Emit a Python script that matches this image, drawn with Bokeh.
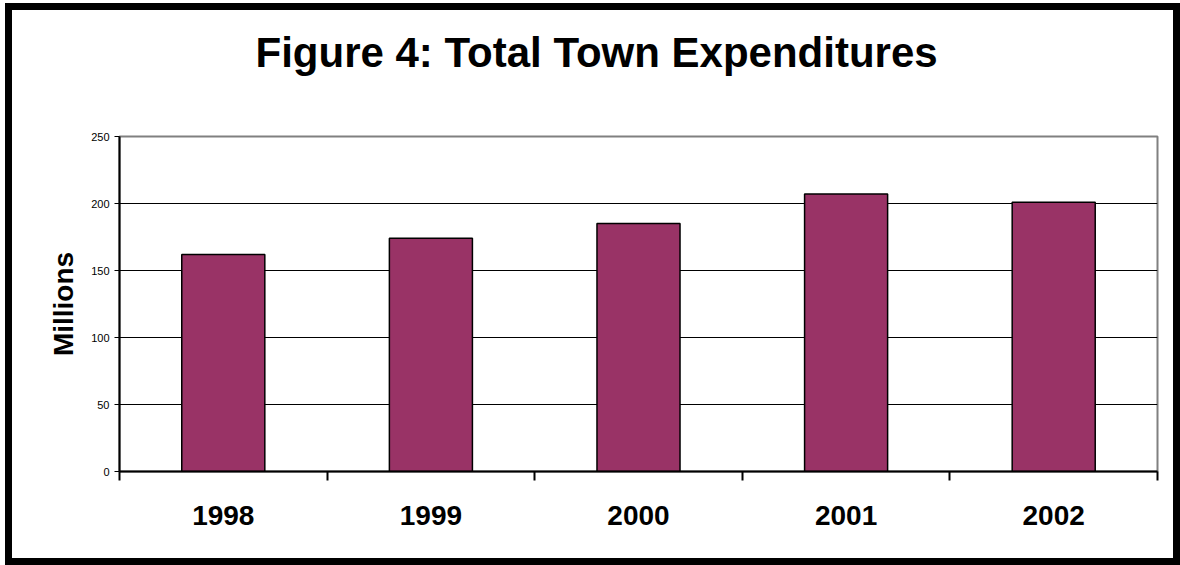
import numpy as np
from bokeh.plotting import figure
from bokeh.models import FixedTicker, Range1d, LinearAxis, Title, Grid
from bokeh.embed import file_html
from bokeh.resources import INLINE

# ---- data ----
years = ["1998", "1999", "2000", "2001", "2002"]
expenditures = [162, 174, 185, 207, 201]
y_ticks = [0, 50, 100, 150, 200, 250]
grid_ticks = [50, 100, 150, 200]
title_text = "Figure 4: Total Town Expenditures"
y_label = "Millions"

FONT = "Liberation Sans"
BAR_COLOR = "#993366"

x_pos = np.arange(len(years)) + 0.5
boundaries = list(np.arange(len(years) + 1).astype(float))

p = figure(width=1161, height=548, output_backend="svg", toolbar_location=None,
           title=None,
           x_range=Range1d(0, len(years)), y_range=Range1d(0, y_ticks[-1]),
           x_axis_type=None, y_axis_type=None,
           min_border_left=107, min_border_right=30,
           min_border_top=126, min_border_bottom=101)

p.styles = {"border": "7px solid black", "box-sizing": "content-box",
            "margin-left": "5px", "margin-top": "3px"}

p.background_fill_color = "white"
p.border_fill_color = "white"
p.outline_line_color = "#808080"
p.outline_line_width = 2

# spacer between title and plot area, then the title itself
spacer = Title(text=" ", text_font=FONT, text_font_size="10px", standoff=48)
p.add_layout(spacer, "above")
main_title = Title(text=title_text, text_font=FONT, text_font_size="42px",
                   text_font_style="bold", text_color="black",
                   align="left", offset=136, vertical_align="bottom", standoff=0)
p.add_layout(main_title, "above")

# y axis
yaxis = LinearAxis(ticker=FixedTicker(ticks=y_ticks))
yaxis.axis_line_width = 2
yaxis.axis_line_color = "black"
yaxis.major_tick_in = 0
yaxis.major_tick_out = 5
yaxis.major_tick_line_width = 1
yaxis.major_tick_line_color = "black"
yaxis.minor_tick_line_color = None
yaxis.major_label_text_font = FONT
yaxis.major_label_text_font_size = "11px"
yaxis.major_label_text_color = "black"
yaxis.major_label_standoff = 5
yaxis.axis_label = y_label
yaxis.axis_label_text_font = FONT
yaxis.axis_label_text_font_size = "28px"
yaxis.axis_label_text_font_style = "bold"
yaxis.axis_label_text_color = "black"
yaxis.axis_label_standoff = 9
p.add_layout(yaxis, "left")

# x axis: labels at category centres, tick marks at category boundaries
xaxis = LinearAxis(ticker=FixedTicker(ticks=list(x_pos), minor_ticks=boundaries))
xaxis.major_label_overrides = {float(x): y for x, y in zip(x_pos, years)}
xaxis.axis_line_width = 2
xaxis.axis_line_color = "black"
xaxis.major_tick_line_color = None
xaxis.minor_tick_line_color = "black"
xaxis.minor_tick_line_width = 2
xaxis.minor_tick_in = 0
xaxis.minor_tick_out = 9
xaxis.major_label_text_font = FONT
xaxis.major_label_text_font_size = "28px"
xaxis.major_label_text_font_style = "bold"
xaxis.major_label_text_color = "black"
xaxis.major_label_standoff = 25
p.add_layout(xaxis, "below")

# horizontal grid lines
grid = Grid(dimension=1, ticker=FixedTicker(ticks=grid_ticks))
grid.grid_line_color = "black"
grid.grid_line_width = 1
p.add_layout(grid)

p.vbar(x=x_pos, top=expenditures, width=0.4, fill_color=BAR_COLOR,
       line_color="black", line_width=1.5)

open("out.html", "w").write(file_html(p, INLINE))
